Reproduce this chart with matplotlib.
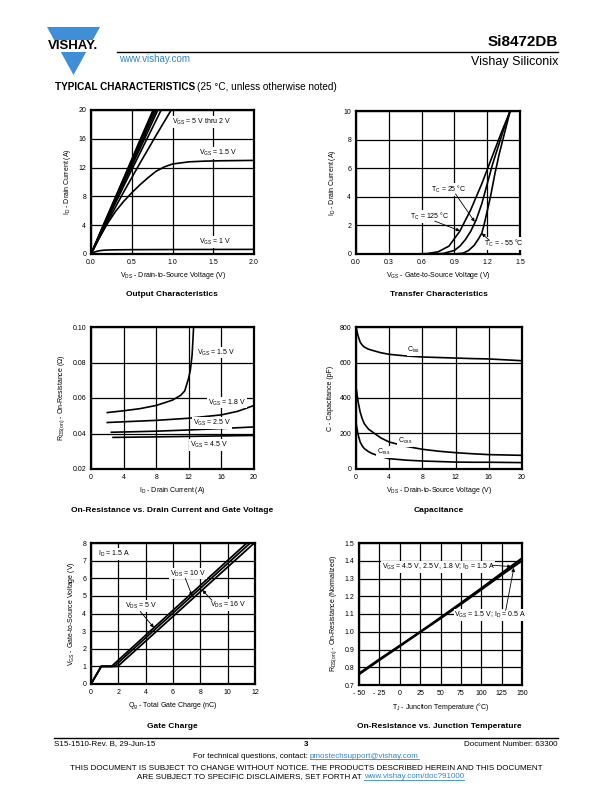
import matplotlib
matplotlib.use('Agg')
import matplotlib.pyplot as plt
from matplotlib.patches import Polygon, Rectangle
from matplotlib.lines import Line2D

plt.rcParams['font.family'] = ['Liberation Sans', 'DejaVu Sans']
plt.rcParams['mathtext.fontset'] = 'custom'
plt.rcParams['mathtext.rm'] = 'Liberation Sans'
plt.rcParams['mathtext.it'] = 'Liberation Sans:italic'
plt.rcParams['mathtext.bf'] = 'Liberation Sans:bold'
plt.rcParams['mathtext.default'] = 'rm'

BLUE = '#2f86d0'
LOGO = '#3f8fd8'

# ---- output characteristics
out_v = [0.0, 0.2, 0.4, 0.6, 0.8, 1.0]
out_i_5v = [0, 5.3, 10.5, 15.8, 21.0, 26.3]
out_i_45v = [0, 5.2, 10.4, 15.6, 20.8, 26.0]
out_i_4v = [0, 5.1, 10.3, 15.4, 20.5, 25.6]
out_i_35v = [0, 5.0, 10.0, 15.0, 20.0, 25.0]
out_i_3v = [0, 4.9, 9.8, 14.6, 19.5, 24.4]
out_i_25v = [0, 4.7, 9.4, 14.0, 18.6, 23.2]
out_i_2v = [0, 4.4, 8.6, 12.6, 16.5, 20.3]
out_v15 = [0, 0.1, 0.2, 0.3, 0.4, 0.5, 0.6, 0.7, 0.8, 0.9, 1.0, 1.2, 1.4, 1.6, 2.0]
out_i15 = [0, 2.2, 4.2, 5.9, 7.3, 8.5, 9.6, 10.6, 11.5, 12.1, 12.5, 12.8, 12.9, 12.95, 13.0]
out_v1 = [0, 0.05, 0.1, 0.15, 0.2, 0.3, 0.5, 1.0, 1.5, 2.0]
out_i1 = [0, 0.3, 0.45, 0.52, 0.55, 0.58, 0.6, 0.62, 0.63, 0.64]

# ---- transfer characteristics
tr_v125 = [0.0, 0.55, 0.65, 0.75, 0.85, 0.95, 1.05, 1.15, 1.25, 1.33, 1.41]
tr_i125 = [0, 0, 0.03, 0.15, 0.55, 1.6, 3.1, 4.9, 6.9, 8.5, 10]
tr_v25 = [0, 0.7, 0.8, 0.9, 0.95, 1.0, 1.05, 1.1, 1.15, 1.2, 1.25, 1.3, 1.35, 1.41]
tr_i25 = [0, 0, 0.04, 0.25, 0.55, 1.0, 1.6, 2.4, 3.5, 4.9, 6.3, 7.5, 8.7, 10]
tr_vm55 = [0, 0.9, 0.98, 1.03, 1.08, 1.12, 1.15, 1.17, 1.2, 1.23, 1.27, 1.31, 1.36, 1.41]
tr_im55 = [0, 0, 0.06, 0.25, 0.6, 1.05, 1.45, 2.0, 3.0, 4.0, 5.6, 7.0, 8.5, 10]

# ---- on-resistance vs drain current
r_id15 = [2, 4, 6, 8, 10, 11, 11.5, 12, 12.2, 12.4, 12.5, 12.6]
r_15 = [0.0518, 0.0528, 0.054, 0.0558, 0.0588, 0.0615, 0.064, 0.0715, 0.076, 0.084, 0.092, 0.101]
r_id18 = [2, 4, 8, 12, 16, 18, 20]
r_18 = [0.0462, 0.0466, 0.0474, 0.0486, 0.0505, 0.0525, 0.0558]
r_id25 = [2.5, 8, 12, 16, 20]
r_25 = [0.0407, 0.0413, 0.0420, 0.0428, 0.0437]
r_id45 = [2.7, 8, 14, 20]
r_45 = [0.0378, 0.0381, 0.0385, 0.0389]

# ---- capacitance
cap_v = [0, 0.25, 0.5, 0.75, 1, 1.5, 2, 3, 4, 6, 8, 10, 12, 14, 16, 18, 20]
ciss = [800, 750, 715, 698, 687, 675, 668, 655, 646, 637, 631, 628, 625, 622, 620, 615, 610]
coss = [462, 380, 321, 283, 255, 225, 208, 175, 152, 128, 111, 100, 92, 86, 81, 79, 77]
crss = [259, 195, 152, 130, 115, 98, 86, 70, 58, 50, 45, 42, 39, 38, 38, 37, 36]

# ---- gate charge
qg_5 = [0, 0.75, 1.5, 11.4]
qg_10 = [0, 0.75, 1.7, 11.65]
qg_16 = [0, 0.75, 1.95, 11.95]
vgs_q = [0, 1, 1, 8]

# ---- on-resistance vs temperature
tj = [-50, -25, 0, 25, 50, 75, 100, 125, 150]
rn_a = [0.765, 0.845, 0.922, 1.0, 1.08, 1.162, 1.245, 1.33, 1.414]
rn_b = [0.76, 0.84, 0.918, 0.997, 1.075, 1.155, 1.237, 1.32, 1.40]

W, H = 612, 792
fig = plt.figure(figsize=(6.12, 7.92), dpi=100)


def fx(x):
    return x / W


def fy(y):
    return 1 - y / H


def add_ax(l, t, r, b):
    return fig.add_axes([l / W, 1 - b / H, (r - l) / W, (b - t) / H])


def style(ax, xlim, ylim, xt, xtl, yt, ytl, xlabel, ylabel):
    ax.set_xlim(xlim)
    ax.set_ylim(ylim)
    ax.set_xticks(xt)
    ax.set_xticklabels(xtl)
    ax.set_yticks(yt)
    ax.set_yticklabels(ytl)
    ax.grid(True, color='black', lw=0.9)
    ax.set_axisbelow(True)
    ax.tick_params(length=0, labelsize=5, pad=3.5)
    for s in ax.spines.values():
        s.set_linewidth(1.6)
    ax.set_xlabel(xlabel, fontsize=5, labelpad=3)
    ax.set_ylabel(ylabel, fontsize=5, labelpad=4)


def label(ax, x, y, s):
    ax.text(x, y, s, fontsize=5, ha='left', va='center',
            bbox=dict(facecolor='white', edgecolor='none', pad=0.6))


def arrow(ax, tail, tip):
    ax.annotate('', xy=tip, xytext=tail,
                arrowprops=dict(arrowstyle='-|>', lw=0.6, color='black',
                                mutation_scale=5, shrinkA=0, shrinkB=0))


LW = 1.2

# 1 output characteristics
ax1 = add_ax(91, 110, 254, 254)
for ys in [out_i_5v, out_i_45v, out_i_4v, out_i_35v, out_i_3v, out_i_25v, out_i_2v]:
    ax1.plot(out_v, ys, color='black', lw=LW)
ax1.plot(out_v15, out_i15, color='black', lw=LW)
ax1.plot(out_v1, out_i1, color='black', lw=LW)
style(ax1, (0, 2), (0, 20), [0, 0.5, 1.0, 1.5, 2.0], ['0.0', '0.5', '1.0', '1.5', '2.0'],
      [0, 4, 8, 12, 16, 20], ['0', '4', '8', '12', '16', '20'],
      'V$_{DS}$ - Drain-to-Source Voltage (V)', 'I$_{D}$ - Drain Current (A)')
label(ax1, 0.99, 18.3, 'V$_{GS}$ = 5 V thru 2 V')
label(ax1, 1.33, 14.0, 'V$_{GS}$ = 1.5 V')
label(ax1, 1.33, 1.7, 'V$_{GS}$ = 1 V')

# 2 transfer characteristics
ax2 = add_ax(356, 111, 520, 254)
ax2.plot(tr_v125, tr_i125, color='black', lw=LW)
ax2.plot(tr_v25, tr_i25, color='black', lw=LW)
ax2.plot(tr_vm55, tr_im55, color='black', lw=LW)
style(ax2, (0, 1.5), (0, 10), [0, 0.3, 0.6, 0.9, 1.2, 1.5], ['0.0', '0.3', '0.6', '0.9', '1.2', '1.5'],
      [0, 2, 4, 6, 8, 10], ['0', '2', '4', '6', '8', '10'],
      'V$_{GS}$ - Gate-to-Source Voltage (V)', 'I$_{D}$ - Drain Current (A)')
label(ax2, 0.69, 4.5, 'T$_{C}$ = 25 °C')
arrow(ax2, (0.91, 4.2), (1.086, 2.25))
label(ax2, 0.49, 2.65, 'T$_{C}$ = 125 °C')
arrow(ax2, (0.72, 2.3), (0.95, 1.62))
label(ax2, 1.17, 0.75, 'T$_{C}$ = - 55 °C')
arrow(ax2, (1.22, 0.95), (1.15, 1.45))

# 3 on-resistance vs drain current
ax3 = add_ax(91, 327, 254, 469)
ax3.plot(r_id15, r_15, color='black', lw=LW)
ax3.plot(r_id18, r_18, color='black', lw=LW)
ax3.plot(r_id25, r_25, color='black', lw=LW)
ax3.plot(r_id45, r_45, color='black', lw=LW)
style(ax3, (0, 20), (0.02, 0.10), [0, 4, 8, 12, 16, 20], ['0', '4', '8', '12', '16', '20'],
      [0.02, 0.04, 0.06, 0.08, 0.10], ['0.02', '0.04', '0.06', '0.08', '0.10'],
      'I$_{D}$ - Drain Current (A)', 'R$_{DS(on)}$ - On-Resistance (Ω)')
label(ax3, 12.95, 0.0856, 'V$_{GS}$ = 1.5 V')
label(ax3, 14.3, 0.0575, 'V$_{GS}$ = 1.8 V')
label(ax3, 12.5, 0.0458, 'V$_{GS}$ = 2.5 V')
label(ax3, 12.1, 0.0333, 'V$_{GS}$ = 4.5 V')

# 4 capacitance
ax4 = add_ax(356, 327, 522, 469)
ax4.plot(cap_v, ciss, color='black', lw=LW)
ax4.plot(cap_v, coss, color='black', lw=LW)
ax4.plot(cap_v, crss, color='black', lw=LW)
style(ax4, (0, 20), (0, 800), [0, 4, 8, 12, 16, 20], ['0', '4', '8', '12', '16', '20'],
      [0, 200, 400, 600, 800], ['0', '200', '400', '600', '800'],
      'V$_{DS}$ - Drain-to-Source Voltage (V)', 'C - Capacitance (pF)')
label(ax4, 6.2, 672, 'C$_{iss}$')
label(ax4, 5.0, 156, 'C$_{oss}$')
label(ax4, 2.5, 96, 'C$_{rss}$')

# 5 gate charge
ax5 = add_ax(91, 543, 255, 684)
ax5.plot(qg_5, vgs_q, color='black', lw=1.3)
ax5.plot(qg_10, vgs_q, color='black', lw=1.3)
ax5.plot(qg_16, vgs_q, color='black', lw=1.3)
style(ax5, (0, 12), (0, 8), [0, 2, 4, 6, 8, 10, 12], ['0', '2', '4', '6', '8', '10', '12'],
      [0, 1, 2, 3, 4, 5, 6, 7, 8], ['0', '1', '2', '3', '4', '5', '6', '7', '8'],
      'Q$_{g}$ - Total Gate Charge (nC)', 'V$_{GS}$ - Gate-to-Source Voltage (V)')
label(ax5, 0.5, 7.4, 'I$_{D}$ = 1.5 A')
label(ax5, 5.8, 6.27, 'V$_{DS}$ = 10 V')
arrow(ax5, (6.9, 6.0), (7.4, 5.0))
label(ax5, 2.5, 4.44, 'V$_{DS}$ = 5 V')
arrow(ax5, (3.6, 4.12), (4.6, 3.2))
label(ax5, 8.7, 4.48, 'V$_{DS}$ = 16 V')
arrow(ax5, (8.85, 4.75), (8.15, 5.33))

# 6 on-resistance vs junction temperature
ax6 = add_ax(359, 543, 522, 685)
ax6.plot(tj, rn_a, color='black', lw=1.5)
ax6.plot(tj, rn_b, color='black', lw=1.5)
style(ax6, (-50, 150), (0.7, 1.5), [-50, -25, 0, 25, 50, 75, 100, 125, 150],
      ['- 50', '- 25', '0', '25', '50', '75', '100', '125', '150'],
      [0.7, 0.8, 0.9, 1.0, 1.1, 1.2, 1.3, 1.4, 1.5],
      ['0.7', '0.8', '0.9', '1.0', '1.1', '1.2', '1.3', '1.4', '1.5'],
      'T$_{J}$ - Junction Temperature (°C)', 'R$_{DS(on)}$ - On-Resistance (Normalized)')
label(ax6, -22, 1.365, 'V$_{GS}$ = 4.5 V, 2.5 V, 1.8 V; I$_{D}$ = 1.5 A')
arrow(ax6, (113, 1.375), (137, 1.367))
label(ax6, 67, 1.094, 'V$_{GS}$ = 1.5 V; I$_{D}$ = 0.5 A')
arrow(ax6, (130, 1.12), (140, 1.36))

# chart titles
for x, y, s in [(172, 294, 'Output Characteristics'), (439, 294, 'Transfer Characteristics'),
                (172, 510, 'On-Resistance vs. Drain Current and Gate Voltage'),
                (439, 510, 'Capacitance'), (172, 727, 'Gate Charge'),
                (439, 727, 'On-Resistance vs. Junction Temperature')]:
    fig.text(fx(x), fy(y), s, fontsize=6, fontweight='bold', ha='center', va='center')

# header
tri = Polygon([(fx(47), fy(27)), (fx(100), fy(27)), (fx(73.5), fy(75))],
              closed=True, facecolor=LOGO, edgecolor='none', transform=fig.transFigure)
fig.patches.append(tri)
fig.patches.append(Rectangle((fx(42), fy(52)), fx(62), 12 / H, facecolor='white',
                             edgecolor='none', transform=fig.transFigure))
fig.text(fx(73.5), fy(46), 'VISHAY.', fontsize=9.5, fontweight='bold', ha='center', va='center')
fig.add_artist(Line2D([fx(117), fx(558)], [fy(52), fy(52)], color='black', lw=1.0))
fig.text(fx(558), fy(42), 'Si8472DB', fontsize=11, fontweight='bold', ha='right', va='center')
fig.text(fx(558), fy(62), 'Vishay Siliconix', fontsize=9, ha='right', va='center')
fig.text(fx(119), fy(59), 'www.vishay.com', fontsize=7, color=BLUE, ha='left', va='center')
t_bold = fig.text(fx(55), fy(87), 'TYPICAL CHARACTERISTICS', fontsize=7.2, fontweight='bold',
                  ha='left', va='center')

# footer
FS = 5.8
fig.add_artist(Line2D([fx(54), fx(558)], [fy(738), fy(738)], color='black', lw=1.0))
fig.text(fx(54), fy(744), 'S15-1510-Rev. B, 29-Jun-15', fontsize=FS, ha='left', va='center')
fig.text(fx(306), fy(745), '3', fontsize=FS, fontweight='bold', ha='center', va='center')
fig.text(fx(558), fy(744), 'Document Number: 63300', fontsize=FS, ha='right', va='center')
fig.text(fx(310), fy(756), 'For technical questions, contact: ', fontsize=FS, ha='right', va='center')
link1 = fig.text(fx(310), fy(756), 'pmostechsupport@vishay.com', fontsize=FS, color=BLUE,
                 ha='left', va='center')
fig.text(fx(306), fy(768), 'THIS DOCUMENT IS SUBJECT TO CHANGE WITHOUT NOTICE. THE PRODUCTS DESCRIBED HEREIN AND THIS DOCUMENT',
         fontsize=FS, ha='center', va='center')
fig.text(fx(364), fy(777), 'ARE SUBJECT TO SPECIFIC DISCLAIMERS, SET FORTH AT ', fontsize=FS,
         ha='right', va='center')
link2 = fig.text(fx(364), fy(777), 'www.vishay.com/doc?91000', fontsize=FS, color=BLUE,
                 ha='left', va='center')

fig.canvas.draw()
r = fig.canvas.get_renderer()
bb = t_bold.get_window_extent(r)
fig.text(bb.x1 / W + 2 / W, fy(87), '(25 °C, unless otherwise noted)', fontsize=7.2, ha='left', va='center')
for t in [link1, link2]:
    b = t.get_window_extent(r)
    fig.add_artist(Line2D([b.x0 / W, b.x1 / W], [(b.y0 + 0.5) / H, (b.y0 + 0.5) / H],
                          color=BLUE, lw=0.6))

fig.savefig('out.png', dpi=100)
